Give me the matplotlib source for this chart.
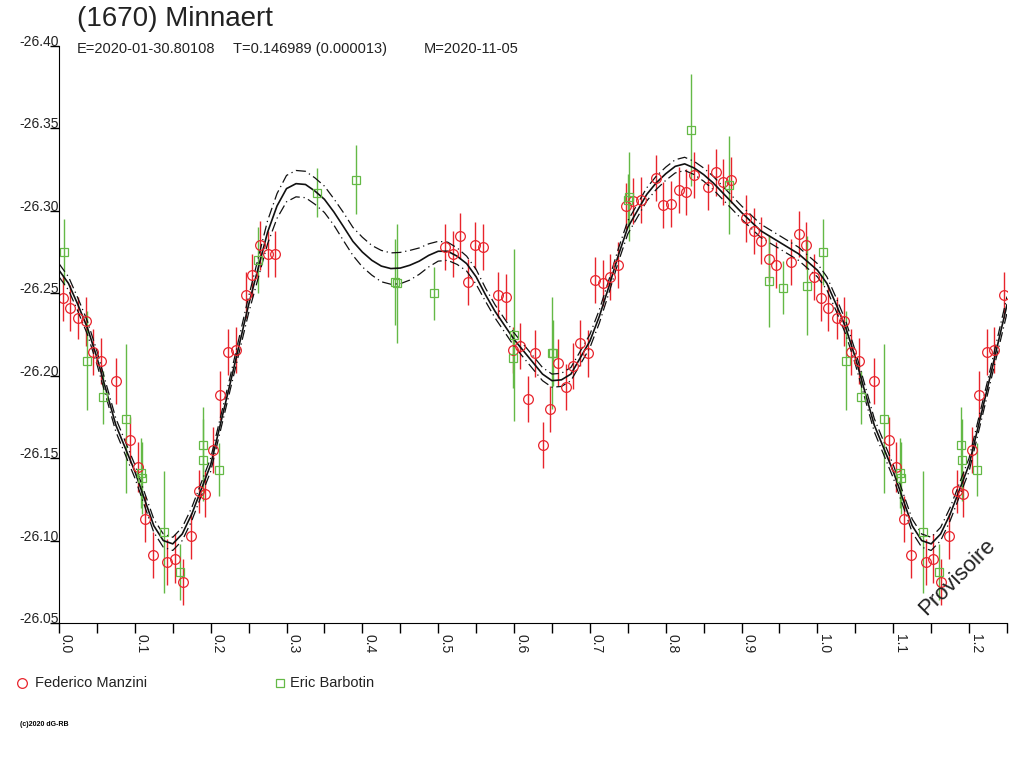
import matplotlib
matplotlib.use('Agg')
import matplotlib.pyplot as plt
from matplotlib.ticker import MultipleLocator
import numpy as np

plt.rcParams['font.family'] = ['Liberation Sans', 'DejaVu Sans']

RED = '#e8242c'
GREEN = '#64b946'

# Federico Manzini (red circles) : phase, reduced magnitude, error
fm_phase = [0.005, 0.0145, 0.0255, 0.035, 0.0444, 0.055, 0.0747, 0.094, 0.104, 0.114,
            0.124, 0.143, 0.153, 0.163, 0.174, 0.184, 0.1926, 0.2036, 0.2128, 0.2234,
            0.2335, 0.246, 0.2546, 0.265, 0.275, 0.285,
            0.509, 0.519, 0.529, 0.539, 0.549, 0.559, 0.579, 0.589, 0.598, 0.608,
            0.618, 0.628, 0.638, 0.648, 0.658, 0.668, 0.678, 0.687, 0.6975, 0.707,
            0.717, 0.727, 0.7366,
            0.7476, 0.757, 0.767, 0.787, 0.797, 0.807, 0.817, 0.827, 0.837, 0.8557,
            0.866, 0.876, 0.8865, 0.906, 0.916, 0.926, 0.9358, 0.946, 0.9657, 0.9753,
            0.9855, 0.995]
fm_mag = [-26.247, -26.241, -26.235, -26.233, -26.2145, -26.209, -26.197, -26.161, -26.1445, -26.113,
          -26.091, -26.087, -26.089, -26.075, -26.103, -26.130, -26.128, -26.155, -26.188, -26.2145,
          -26.2155, -26.249, -26.261, -26.279, -26.274, -26.274,
          -26.278, -26.274, -26.285, -26.257, -26.279, -26.278, -26.249, -26.248, -26.2155, -26.218,
          -26.186, -26.2135, -26.158, -26.180, -26.208, -26.193, -26.206, -26.220, -26.2135, -26.258,
          -26.256, -26.260, -26.267,
          -26.303, -26.306, -26.3066, -26.320, -26.3035, -26.304, -26.3126, -26.3116, -26.3217, -26.3146,
          -26.3233, -26.3177, -26.3187, -26.2954, -26.288, -26.282, -26.271, -26.267, -26.269, -26.286,
          -26.279, -26.260]
fm_err = [0.014, 0.014, 0.013, 0.015, 0.014, 0.014, 0.014, 0.014, 0.015, 0.014,
          0.014, 0.014, 0.015, 0.014, 0.014, 0.013, 0.014, 0.014, 0.015, 0.014,
          0.014, 0.014, 0.013, 0.015, 0.014, 0.014,
          0.014, 0.014, 0.014, 0.014, 0.014, 0.014, 0.014, 0.014, 0.014, 0.014,
          0.014, 0.014, 0.014, 0.014, 0.014, 0.014, 0.014, 0.014, 0.014, 0.014,
          0.014, 0.014, 0.014,
          0.014, 0.014, 0.014, 0.014, 0.014, 0.014, 0.014, 0.014, 0.014, 0.014,
          0.014, 0.014, 0.014, 0.014, 0.014, 0.014, 0.014, 0.014, 0.014, 0.014,
          0.014, 0.014]

# Eric Barbotin (green squares)
eb_phase = [0.007, 0.0374, 0.0576, 0.088, 0.1086, 0.110, 0.139, 0.160, 0.190, 0.1904,
            0.211, 0.262, 0.340, 0.392, 0.443, 0.4455, 0.494, 0.5994, 0.598, 0.6495,
            0.651, 0.7498, 0.752, 0.833, 0.884, 0.9358, 0.9547, 0.986]
eb_mag = [-26.275, -26.209, -26.187, -26.174, -26.141, -26.138, -26.105, -26.081, -26.158, -26.149,
          -26.143, -26.270, -26.311, -26.319, -26.257, -26.256, -26.250, -26.2246, -26.2105, -26.214,
          -26.214, -26.3066, -26.3086, -26.349, -26.3157, -26.2576, -26.2533, -26.2546]
eb_err = [0.020, 0.030, 0.016, 0.045, 0.021, 0.022, 0.037, 0.017, 0.023, 0.025,
          0.016, 0.020, 0.015, 0.021, 0.026, 0.036, 0.016, 0.052, 0.018, 0.034,
          0.020, 0.016, 0.027, 0.034, 0.030, 0.028, 0.016, 0.030]

# fitted lightcurve over one period and half width of its band
model_phase = [0.0, 0.0125, 0.025, 0.0375, 0.05, 0.075, 0.1, 0.125, 0.1375, 0.15,
               0.1625, 0.175, 0.2, 0.225, 0.25, 0.2625, 0.275, 0.2875, 0.3, 0.3125,
               0.325, 0.3375, 0.35, 0.3625, 0.375, 0.3875, 0.4, 0.4125, 0.425, 0.4375,
               0.45, 0.4625, 0.475, 0.4875, 0.5, 0.5125, 0.525, 0.5375, 0.55, 0.5625,
               0.575, 0.6, 0.625, 0.6375, 0.65, 0.6625, 0.675, 0.7, 0.7125, 0.725,
               0.7375, 0.75, 0.7625, 0.775, 0.7875, 0.8, 0.8125, 0.825, 0.8375, 0.85,
               0.8625, 0.875, 0.9, 0.925, 0.95, 0.975, 1.0]
model_mag = [-26.264, -26.256, -26.243, -26.229, -26.211, -26.170, -26.142, -26.109, -26.100, -26.098,
             -26.104, -26.116, -26.146, -26.194, -26.243, -26.265, -26.287, -26.303, -26.3135, -26.3165,
             -26.316, -26.312, -26.307, -26.2993, -26.2905, -26.2815, -26.275, -26.270, -26.2665, -26.265,
             -26.2653, -26.267, -26.2695, -26.273, -26.2755, -26.2755, -26.2725, -26.268, -26.260, -26.249,
             -26.239, -26.222, -26.208, -26.201, -26.197, -26.1975, -26.201, -26.221, -26.236, -26.254,
             -26.273, -26.290, -26.300, -26.310, -26.317, -26.3225, -26.327, -26.3285, -26.326, -26.322,
             -26.317, -26.311, -26.299, -26.288, -26.281, -26.274, -26.264]
model_band = [0.004, 0.004, 0.004, 0.004, 0.004, 0.004, 0.004, 0.004, 0.004, 0.004,
              0.004, 0.004, 0.004, 0.004, 0.005, 0.006, 0.007, 0.0075, 0.008, 0.008,
              0.008, 0.008, 0.008, 0.008, 0.0085, 0.0085, 0.009, 0.009, 0.0095, 0.0095,
              0.0095, 0.009, 0.008, 0.007, 0.006, 0.0055, 0.005, 0.0045, 0.0045, 0.004,
              0.004, 0.004, 0.004, 0.004, 0.004, 0.004, 0.004, 0.004, 0.004, 0.004,
              0.004, 0.004, 0.004, 0.004, 0.004, 0.004, 0.004, 0.004, 0.004, 0.004,
              0.004, 0.004, 0.004, 0.004, 0.004, 0.004, 0.004]


def wrap(ph, *cols, start=0.0):
    # repeat the first quarter of the period after phase 1
    ph = np.asarray(ph)
    m = (ph > start) & (ph <= 0.25)
    out = [np.r_[ph, ph[m] + 1]]
    for c in cols:
        c = np.asarray(c)
        out.append(np.r_[c, c[m]])
    return out


fig = plt.figure(figsize=(10.24, 7.68), dpi=100)
ax = fig.add_axes([59/1024, 1 - 623/768, 948/1024, 577/768])

x, y, e = wrap(fm_phase, fm_mag, fm_err, start=-1)
ax.errorbar(x, y, yerr=e, fmt='o', ms=7, mfc='none', mec=RED, mew=0.9,
            ecolor=RED, elinewidth=1, capsize=0)
x, y, e = wrap(eb_phase, eb_mag, eb_err, start=-1)
ax.errorbar(x, y, yerr=e, fmt='s', ms=5.5, mfc='none', mec=GREEN, mew=0.9,
            ecolor=GREEN, elinewidth=1, capsize=0)

mx, my, mb = wrap(model_phase, model_mag, model_band)
ax.plot(mx, my, color='#111111', lw=1.2)
ax.plot(mx, my - mb, color='#111111', lw=0.9, ls=(0, (8, 3, 1, 3)))
ax.plot(mx, my + mb, color='#111111', lw=0.9, ls=(0, (8, 3, 1, 3)))

ax.set_xlim(0, 1.25)
ax.set_ylim(-26.05, -26.40)

for s in ['top', 'right']:
    ax.spines[s].set_visible(False)

xt = [i / 10 for i in range(13)]
ax.set_xticks(xt)
ax.set_xticklabels(['%.1f' % v for v in xt], rotation=-90, ha='left', fontsize=10, color='#222222')
ax.xaxis.set_minor_locator(MultipleLocator(0.05))
ax.tick_params(axis='x', which='both', length=7, width=1, pad=1)

yt = [-26.40, -26.35, -26.30, -26.25, -26.20, -26.15, -26.10, -26.05]
ax.set_yticks(yt)
ax.set_yticklabels(['%.2f' % v for v in yt], fontsize=10, color='#222222')
ax.tick_params(axis='y', length=6.5, width=1, pad=-6.5)
for lab in ax.get_yticklabels():
    lab.set_verticalalignment('baseline')

fig.text(77/1024, 1 - 19/768, '(1670) Minnaert', fontsize=20, va='center', color='#222222')
fig.text(77/1024, 1 - 49/768, 'E=2020-01-30.80108', fontsize=10.5, va='center', color='#222222')
fig.text(233/1024, 1 - 49/768, 'T=0.146989 (0.000013)', fontsize=10.5, va='center', color='#222222')
fig.text(424/1024, 1 - 49/768, 'M=2020-11-05', fontsize=10.5, va='center', color='#222222')

ax.text(957/1024, 1 - 577/768, 'Provisoire', transform=fig.transFigure, rotation=45,
        fontsize=16, ha='center', va='center', rotation_mode='anchor', color='#222222')

# legend below the plot
fig.lines.append(plt.Line2D([22/1024], [1 - 683/768], marker='o', ms=7, mfc='none',
                            mec=RED, mew=0.9, transform=fig.transFigure))
fig.text(35/1024, 1 - 683/768, 'Federico Manzini', fontsize=10.5, va='center', color='#222222')
fig.lines.append(plt.Line2D([280/1024], [1 - 683/768], marker='s', ms=5.5, mfc='none',
                            mec=GREEN, mew=0.9, transform=fig.transFigure))
fig.text(290/1024, 1 - 683/768, 'Eric Barbotin', fontsize=10.5, va='center', color='#222222')

fig.text(20/1024, 1 - 725/768, '(c)2020 dG-RB', fontsize=5, fontweight='bold', va='center')

fig.savefig('out.png', dpi=100)
